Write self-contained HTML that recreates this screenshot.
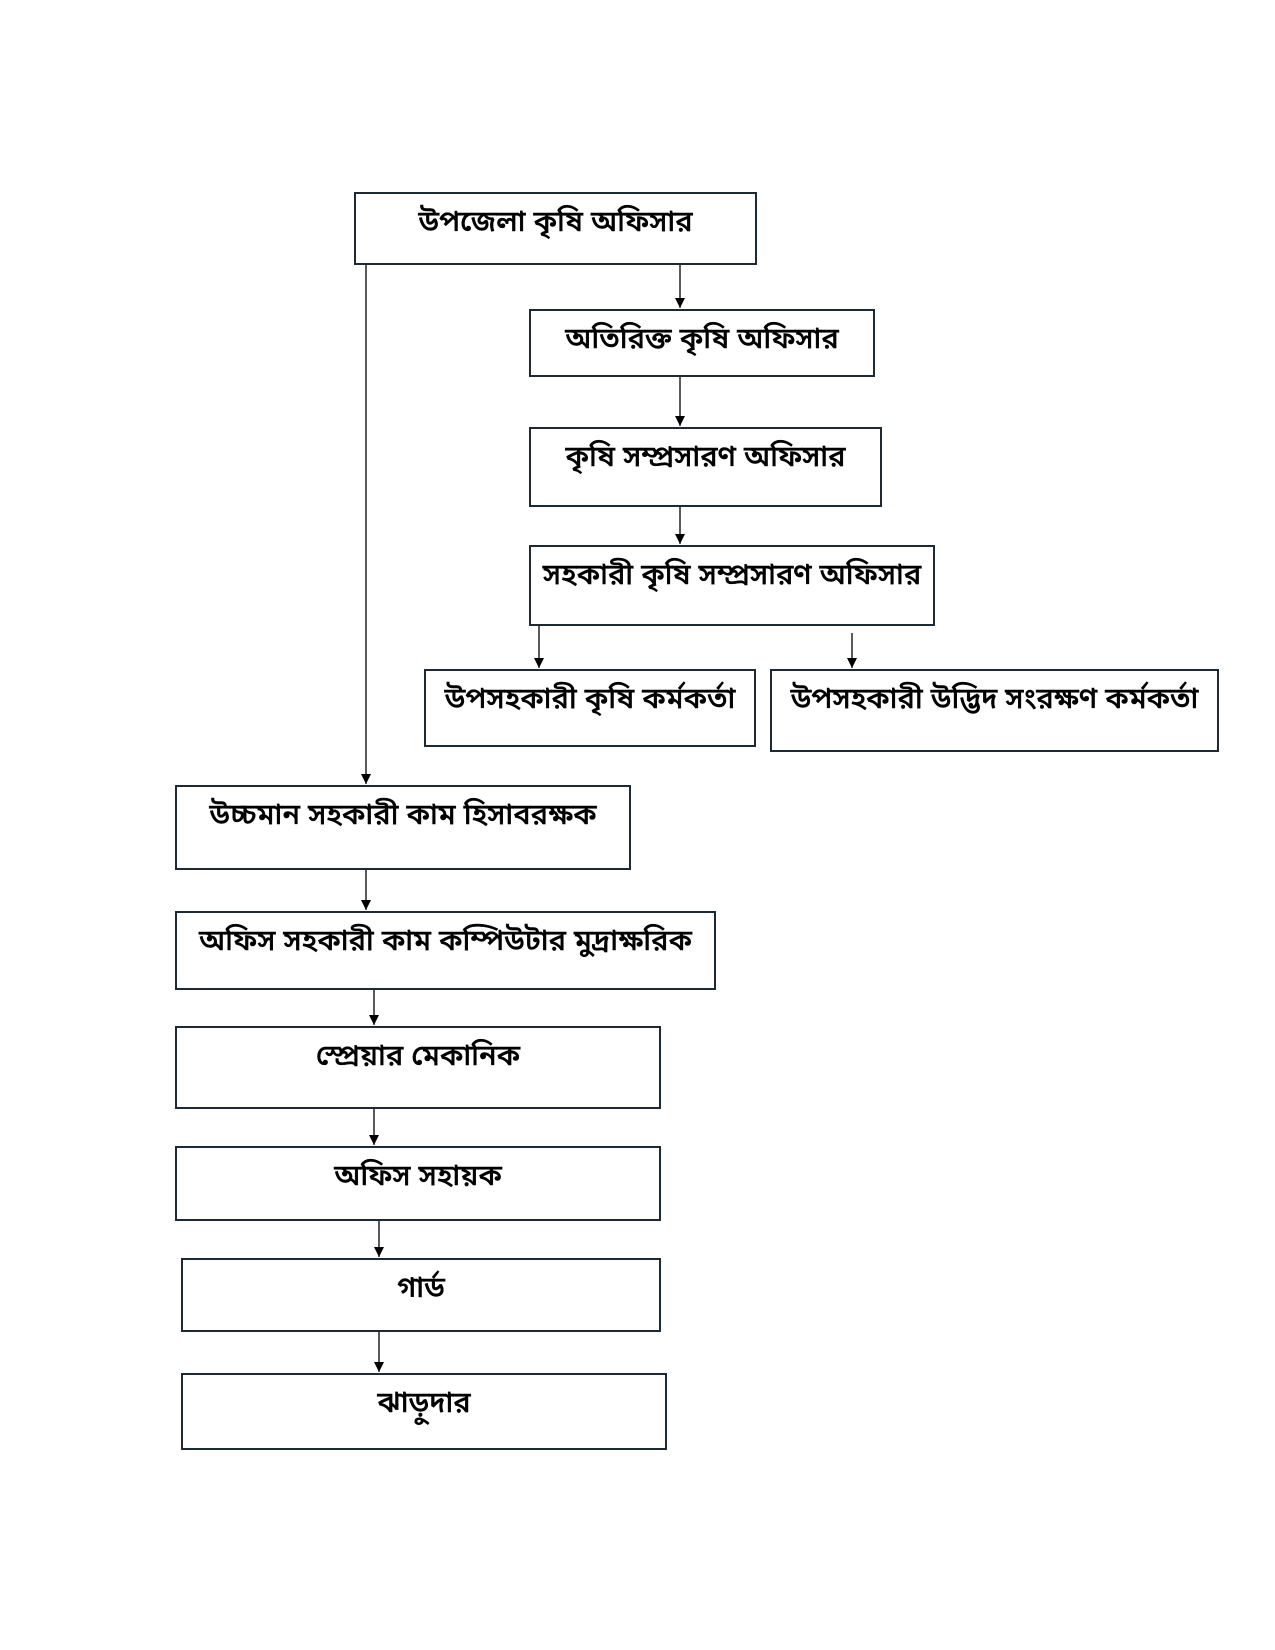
<!DOCTYPE html>
<html><head><meta charset="utf-8"><style>
body{margin:0;background:#fff;width:1275px;height:1650px;position:relative;overflow:hidden;font-family:"Liberation Sans","Noto Sans Bengali","Lohit Bengali",sans-serif}
.b{position:absolute;box-sizing:border-box;border:2px solid #1c2a36;background:#fff;text-align:center;font-size:29px;color:#000;padding-top:11px;line-height:34px;white-space:nowrap;font-weight:500;-webkit-text-stroke:0.4px #000}
svg{position:absolute;left:0;top:0}
</style></head><body>
<svg width="1275" height="1650">
<defs><marker id="a" markerWidth="10" markerHeight="10" refX="10" refY="5" orient="auto" markerUnits="userSpaceOnUse"><path d="M0,0 L10,5 L0,10 z" fill="#000"/></marker></defs>
<g stroke="#000" stroke-width="1.3" fill="none" marker-end="url(#a)">
<line x1="366" y1="265" x2="366" y2="784"/>
<line x1="680" y1="265" x2="680" y2="308"/>
<line x1="680" y1="377" x2="680" y2="426"/>
<line x1="680" y1="507" x2="680" y2="544"/>
<line x1="539" y1="626" x2="539" y2="668"/>
<line x1="852" y1="633" x2="852" y2="668"/>
<line x1="366" y1="870" x2="366" y2="910"/>
<line x1="374" y1="990" x2="374" y2="1025"/>
<line x1="374" y1="1109" x2="374" y2="1145"/>
<line x1="379" y1="1221" x2="379" y2="1257"/>
<line x1="379" y1="1332" x2="379" y2="1372"/>
</g></svg>
<div class="b" style="left:354px;top:192px;width:403px;height:73px">উপজেলা কৃষি অফিসার</div>
<div class="b" style="left:529px;top:309px;width:346px;height:68px">অতিরিক্ত কৃষি অফিসার</div>
<div class="b" style="left:529px;top:427px;width:353px;height:80px">কৃষি সম্প্রসারণ অফিসার</div>
<div class="b" style="left:529px;top:545px;width:406px;height:81px">সহকারী কৃষি সম্প্রসারণ অফিসার</div>
<div class="b" style="left:424px;top:669px;width:332px;height:78px">উপসহকারী কৃষি কর্মকর্তা</div>
<div class="b" style="left:770px;top:669px;width:449px;height:83px">উপসহকারী উদ্ভিদ সংরক্ষণ কর্মকর্তা</div>
<div class="b" style="left:175px;top:785px;width:456px;height:85px">উচ্চমান সহকারী কাম হিসাবরক্ষক</div>
<div class="b" style="left:175px;top:911px;width:541px;height:79px">অফিস সহকারী কাম কম্পিউটার মুদ্রাক্ষরিক</div>
<div class="b" style="left:175px;top:1026px;width:486px;height:83px">স্প্রেয়ার মেকানিক</div>
<div class="b" style="left:175px;top:1146px;width:486px;height:75px">অফিস সহায়ক</div>
<div class="b" style="left:181px;top:1258px;width:480px;height:74px">গার্ড</div>
<div class="b" style="left:181px;top:1373px;width:486px;height:77px">ঝাড়ুদার</div>
</body></html>
